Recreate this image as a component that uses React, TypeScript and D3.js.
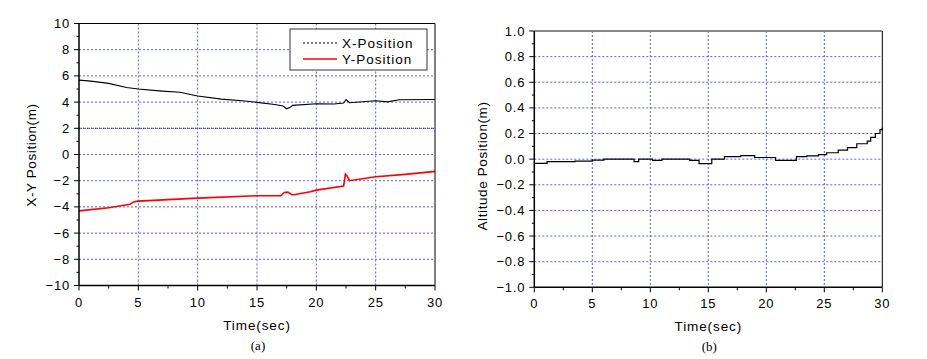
import React from "react";
import * as d3 from "d3";

const timeTicks = [0, 5, 10, 15, 20, 25, 30];
const xyTicks = [-10, -8, -6, -4, -2, 0, 2, 4, 6, 8, 10];
const altTicks = [-1.0, -0.8, -0.6, -0.4, -0.2, 0.0, 0.2, 0.4, 0.6, 0.8, 1.0];

const xPosT = [0, 1, 2.5, 4, 5, 7, 8.5, 10, 12, 14, 15, 16.5, 17.2, 17.5, 17.8, 18, 20, 21.5, 22.3, 22.5, 22.8, 25, 26, 27, 30];
const xPosV = [5.68, 5.6, 5.43, 5.12, 5.0, 4.84, 4.75, 4.46, 4.23, 4.08, 3.98, 3.82, 3.7, 3.49, 3.6, 3.75, 3.87, 3.85, 3.93, 4.2, 3.95, 4.1, 4.02, 4.18, 4.2];

const yPosT = [0, 2.5, 4.3, 4.6, 5, 10, 15, 17, 17.3, 17.6, 17.9, 18.1, 19.5, 20, 22.3, 22.45, 22.6, 22.8, 25, 27.5, 30];
const yPosV = [-4.3, -4.07, -3.8, -3.62, -3.56, -3.33, -3.15, -3.15, -2.9, -2.87, -3.05, -3.07, -2.84, -2.72, -2.41, -1.5, -1.65, -2.0, -1.7, -1.52, -1.29];

const altT = [0, 1.1, 3.5, 5, 6, 8.6, 9.0, 10.2, 11, 13.4, 14.2, 15.3, 16.4, 17.8, 19, 20.8, 22.6, 23.5, 24.5, 25.2, 26.2, 27, 27.8, 28.7, 29.0, 29.4, 29.8, 30];
const altV = [-0.033, -0.02, -0.015, -0.007, 0, -0.02, 0, -0.01, 0, -0.01, -0.035, 0, 0.02, 0.027, 0.013, -0.01, 0.02, 0.025, 0.035, 0.05, 0.07, 0.09, 0.12, 0.14, 0.17, 0.2, 0.23, 0.245];

const FONT = "'Liberation Sans', Arial, sans-serif";
const GRID = "#5a5aff";

function Panel(props: {
  x0: number; x1: number; y0: number; y1: number;
  yDomain: [number, number]; yTicks: number[]; yMinor: number[];
  yFmt: (v: number) => string; yTitle: string; yTitleY: number; yTitleX: number;
  caption: string; topGray?: boolean; children?: (xs: any, ys: any) => React.ReactNode;
}) {
  const { x0, x1, y0, y1 } = props;
  const xs = d3.scaleLinear().domain([0, 30]).range([x0, x1]);
  const ys = d3.scaleLinear().domain(props.yDomain).range([y1, y0]);
  const xMinor = d3.range(2.5, 30, 5);
  const cx = (x0 + x1) / 2;
  return (
    <g>
      {timeTicks.slice(1, -1).map((t) => (
        <line key={"gx" + t} x1={xs(t)} x2={xs(t)} y1={y0} y2={y1} stroke={GRID} strokeWidth={1} strokeDasharray="2,2" />
      ))}
      {props.yTicks.slice(1, -1).map((v) => (
        <line key={"gy" + v} x1={x0} x2={x1} y1={ys(v)} y2={ys(v)} stroke={GRID} strokeWidth={1} strokeDasharray="2,2" />
      ))}
      {props.children && props.children(xs, ys)}
      <line x1={x0} x2={x1} y1={y0} y2={y0} stroke={props.topGray ? "#8a8a8a" : "#000"} strokeWidth={props.topGray ? 2 : 1} />
      <line x1={x1} x2={x1} y1={y0} y2={y1} stroke="#000" strokeWidth={1} />
      <line x1={x0} x2={x1} y1={y1} y2={y1} stroke="#000" strokeWidth={1.5} />
      <line x1={x0} x2={x0} y1={y0} y2={y1} stroke="#000" strokeWidth={1.5} />
      {props.yTicks.map((v) => (
        <g key={"ty" + v}>
          <line x1={x0 - 5} x2={x0} y1={ys(v)} y2={ys(v)} stroke="#000" />
          <text x={x0 - 9} y={ys(v)} dy="0.35em" textAnchor="end" fontSize={13} letterSpacing={0.8} fontFamily={FONT}>{props.yFmt(v)}</text>
        </g>
      ))}
      {props.yMinor.map((v) => (
        <line key={"my" + v} x1={x0 - 2.5} x2={x0} y1={ys(v)} y2={ys(v)} stroke="#000" />
      ))}
      {timeTicks.map((t) => (
        <g key={"tx" + t}>
          <line x1={xs(t)} x2={xs(t)} y1={y1} y2={y1 + 5} stroke="#000" />
          <text x={xs(t)} y={y1 + 21} textAnchor="middle" fontSize={13} letterSpacing={0.8} fontFamily={FONT}>{t}</text>
        </g>
      ))}
      {xMinor.map((t) => (
        <line key={"mx" + t} x1={xs(t)} x2={xs(t)} y1={y1} y2={y1 + 3} stroke="#000" />
      ))}
      <text x={cx} y={y1 + 44} textAnchor="middle" fontSize={13.5} letterSpacing={0.9} fontFamily={FONT}>Time(sec)</text>
      <text x={cx + 1} y={y1 + 64} textAnchor="middle" fontSize={13} fontFamily="'Liberation Serif', 'Times New Roman', serif">{props.caption}</text>
      <text transform={`translate(${props.yTitleX},${props.yTitleY}) rotate(-90)`} textAnchor="middle" dy="0.35em" fontSize={13.5} letterSpacing={0.6} fontFamily={FONT}>{props.yTitle}</text>
    </g>
  );
}

export default function App() {
  const xyData = xPosT.map((t, i) => [t, xPosV[i]] as [number, number]);
  const yData = yPosT.map((t, i) => [t, yPosV[i]] as [number, number]);
  const altData = altT.map((t, i) => [t, altV[i]] as [number, number]);
  return (
    <div style={{ position: "absolute", left: 0, top: 0 }}>
      <svg width={927} height={359} style={{ display: "block", background: "#fff" }}>
        <Panel x0={79} x1={435} y0={23.5} y1={285.5} yDomain={[-10, 10]} yTicks={xyTicks}
          yMinor={d3.range(-9, 10, 2)} yFmt={(v) => (v < 0 ? "\u2212" + Math.abs(v) : String(v))}
          yTitle="X-Y Position(m)" yTitleX={31} yTitleY={155} caption="(a)">
          {(xs, ys) => {
            const line = d3.line<[number, number]>().x((d) => xs(d[0])).y((d) => ys(d[1]));
            return (
              <g>
                <line x1={xs(0)} x2={xs(30)} y1={ys(2)} y2={ys(2)} stroke="#2020ff" strokeWidth={1} strokeDasharray="1,1" />
                <path d={line(xyData) || ""} fill="none" stroke="#000" strokeWidth={1.1} />
                <path d={line(yData) || ""} fill="none" stroke="#ff0000" strokeWidth={1.6} />
                <rect x={290} y={29} width={137} height={41} fill="#fff" stroke="#333" strokeWidth={1} />
                <line x1={303} x2={337} y1={43} y2={43} stroke="#000" strokeWidth={1.2} strokeDasharray="2,2" />
                <line x1={303} x2={337} y1={59} y2={59} stroke="#ff0000" strokeWidth={1.6} />
                <text x={342} y={43} dy="0.35em" fontSize={13.5} letterSpacing={1} fontFamily={FONT}>X-Position</text>
                <text x={342} y={59} dy="0.35em" fontSize={13.5} letterSpacing={1} fontFamily={FONT}>Y-Position</text>
              </g>
            );
          }}
        </Panel>
        <Panel x0={534.3} x1={882.3} y0={31} y1={287.3} yDomain={[-1, 1]} yTicks={altTicks}
          yMinor={d3.range(-0.9, 1, 0.2)} yFmt={(v) => (v < -1e-9 ? "\u2212" + Math.abs(v).toFixed(1) : Math.abs(v).toFixed(1))}
          yTitle="Altitude Position(m)" yTitleX={482} yTitleY={166} caption="(b)" topGray>
          {(xs, ys) => {
            const line = d3.line<[number, number]>().x((d) => xs(d[0])).y((d) => ys(d[1])).curve(d3.curveStepAfter);
            return <path d={line(altData) || ""} fill="none" stroke="#000" strokeWidth={1.2} />;
          }}
        </Panel>
      </svg>
    </div>
  );
}
